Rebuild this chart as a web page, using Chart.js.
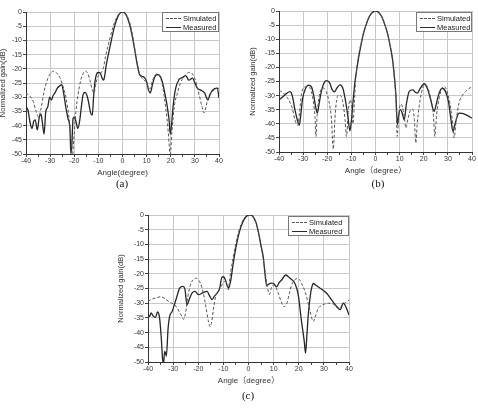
<!DOCTYPE html>
<html>
<head>
<meta charset="utf-8">
<script src="https://cdn.jsdelivr.net/npm/chart.js@4.4.0/dist/chart.umd.min.js"></script>
<style>
body { margin: 0; width: 478px; height: 408px; background: #fff; position: relative; overflow: hidden; font-family: "Liberation Sans", Arial, sans-serif; }
.wrap { position: absolute; }
canvas { display: block; }
.legend { position: absolute; border: 1px solid #777; background: #fff; box-sizing: border-box; font-size: 7.5px; color: #222; padding-top: 1px; will-change: transform; }
.legend .row { display: flex; align-items: center; height: 9px; }
.legend .ln { display: inline-block; width: 15px; margin: 0 2px 0 3px; border-top: 1px solid #2a2a2a; }
.legend .ln.dash { border-top: 1px dashed #555; }
.cap { position: absolute; font-family: "Liberation Serif", "Times New Roman", serif; font-size: 11px; color: #111; transform: translateX(-50%); will-change: transform; }
</style>
</head>
<body>

<div class="wrap" style="left:0px;top:0px"><canvas id="chartA" width="240" height="180"></canvas></div>
<div class="wrap" style="left:240px;top:0px"><canvas id="chartB" width="238" height="178"></canvas></div>
<div class="wrap" style="left:110px;top:195px"><canvas id="chartC" width="250" height="193"></canvas></div>

<div class="legend" style="left:162px;top:12px;width:57px;height:20px">
  <div class="row"><span class="ln dash"></span>Simulated</div>
  <div class="row"><span class="ln"></span>Measured</div>
</div>
<div class="legend" style="left:416px;top:12px;width:56px;height:20px">
  <div class="row"><span class="ln dash"></span>Simulated</div>
  <div class="row"><span class="ln"></span>Measured</div>
</div>
<div class="legend" style="left:288px;top:216px;width:61px;height:20px">
  <div class="row"><span class="ln dash"></span>Simulated</div>
  <div class="row"><span class="ln"></span>Measured</div>
</div>

<div class="cap" style="left:122px;top:177px">(a)</div>
<div class="cap" style="left:378px;top:177px">(b)</div>
<div class="cap" style="left:248px;top:389px">(c)</div>

<script>
// (a) angle in degrees / normalized gain in dB
const aMeasAngle = [-40,-39.2,-38.3,-37.5,-36.8,-36.2,-35.3,-34.5,-33.8,-33.2,-32.5,-31.8,-31,-30.2,-29.5,-28.8,-28,-27,-26,-25.2,-24.5,-23.5,-22.6,-21.8,-21.4,-21,-20.5,-20,-19.3,-18.5,-17.7,-17,-16.3,-15.5,-14.7,-14,-13.2,-12.5,-12,-11.4,-10.8,-10,-9.2,-8.5,-7.8,-7.3,-6.8,-6,-5,-4,-3,-2,-1,0,1,2,3,4,5,6,7,8,9,10,10.8,11.5,12.3,13.3,14.5,15.5,16.5,17.5,18.5,19.3,19.8,20.3,21,22,23.4,25,26.2,27.5,29,30,31,32.4,34,35.4,36.3,37.3,39.3,40];
const aMeasGain  = [-33.5,-34.5,-39,-41,-38.5,-38,-41.5,-37,-36,-39,-43,-35,-33.5,-30,-31,-29.5,-28.5,-26.8,-26,-25.6,-28,-33.5,-37.5,-41,-50,-47,-37.5,-37,-38.5,-41,-38,-33,-29,-28.3,-29.5,-32,-35.5,-36.3,-30,-24.5,-22,-21.3,-21.5,-23.2,-24,-22,-19,-15.5,-11.5,-7.5,-4.2,-1.8,-0.4,0,-0.4,-1.9,-4.5,-8.3,-13,-18,-21.8,-22.6,-23,-24.5,-27.5,-28.5,-26,-23,-22,-22.5,-24.5,-28.5,-33,-38,-43,-40,-33,-27,-23.8,-23,-22.4,-24,-23.3,-25,-26.8,-27.5,-28.5,-31,-29,-27.5,-26.8,-30.3];
const aSimAngle  = [-40,-38.5,-37,-35.8,-34.8,-33.8,-32.5,-31,-29.5,-28.5,-27.5,-26,-24.8,-23.5,-22.2,-21.3,-20.8,-20.2,-19.3,-18.5,-17.3,-16,-15.3,-14.5,-13.5,-12.5,-11.8,-11,-10,-9,-8,-7,-6,-5,-4,-3,-2,-1,0,1,2,3,4,5,6,7,8,9,10,10.8,11.5,12.3,13.3,14.3,15.3,16.5,17.5,18.5,19.3,19.7,20.5,21.5,22.8,24,25.4,26.5,28,29,30,31,32,33,33.8,34.6,35.5,36.6,38,39.3,40];
const aSimGain   = [-28.5,-29.5,-31.5,-35,-37,-34,-28,-23.5,-21.3,-20.8,-21.3,-23,-25.8,-30,-37,-45,-51,-45,-35,-29.5,-24,-21.2,-20.8,-21.5,-24,-27.5,-28.5,-25,-22.5,-21.5,-20,-15.5,-12,-8.5,-5.5,-3,-1.3,-0.3,0,-0.3,-1.5,-3.8,-7.5,-12.5,-17.5,-21.5,-23.2,-24,-25,-26.5,-27,-24.5,-22.5,-21.8,-22.5,-25.5,-31,-38,-46,-51,-42,-33,-28.5,-25,-23,-21.8,-21.2,-21.8,-23.5,-26.5,-30,-33.5,-35.5,-33.5,-30,-28.5,-27.5,-26.8,-27];

// (b)
const bMeasAngle = [-40,-38.5,-37,-35.5,-34.5,-33.4,-32.3,-31.6,-31,-30.2,-29,-27.8,-26.5,-25.5,-24.8,-24.1,-23.4,-22.3,-21.2,-20.2,-19,-18,-17,-16,-14.7,-13.5,-12.5,-11.5,-10.6,-10,-9.3,-8.5,-7.8,-7,-6,-5,-4,-3,-2,-1,0,1,2,3,4,5,6,7,7.8,8.4,9.1,9.6,10.3,11,11.9,12.8,14,15.4,16.5,17.4,18.5,20.2,21.5,22.9,24.3,25.2,26.3,27.7,29,30.2,31.2,32.1,33,34.6,36,38,40];
const bMeasGain  = [-31.5,-30.5,-29.3,-28.6,-30,-35,-39,-40.5,-37,-31,-27.5,-26.3,-27,-30.5,-34,-36.2,-33,-28,-25.3,-24.7,-25.5,-27.8,-28.7,-27.3,-26.2,-27.5,-31.5,-37,-42.5,-39,-32,-25,-20.9,-16.5,-12,-8,-5.2,-2.8,-1.2,-0.3,0,-0.3,-1.2,-2.8,-5.2,-8,-12,-16.8,-23,-29.1,-40.3,-37,-35,-36,-38.6,-33,-28.5,-28,-28.8,-29.1,-27.5,-25.8,-27.5,-31.5,-35.6,-33,-29.3,-27.4,-28.5,-32,-38,-42.7,-40,-36.2,-36.3,-37,-38];
const bSimAngle  = [-40,-38.5,-37.5,-36,-34.5,-33.4,-32.2,-31.5,-30.6,-29.3,-27.8,-26.6,-25.6,-25.1,-24.7,-24.2,-23.5,-22.6,-21.6,-20.5,-19.3,-18.3,-17.5,-16.8,-16.1,-15.2,-14.3,-13.4,-12.6,-12,-11.3,-10.6,-10,-9.3,-8.8,-8.2,-7.5,-7,-6,-5,-4,-3,-2,-1,0,1,2,3,4,5,6,7,7.8,8.5,9,9.7,10.5,11.2,12,12.6,13.5,14.6,15.4,16.1,16.7,17.3,18.1,19.5,20.8,22,23.2,24,24.6,25.3,26.4,27.5,28.4,29.5,30.8,31.8,32.6,33.4,34.6,36,37.4,38.7,40];
const bSimGain   = [-28.3,-28.8,-29.7,-31.5,-34.5,-38.6,-40.5,-36,-29,-27,-26.8,-28.5,-33,-37.4,-44.5,-37,-31,-28,-27.3,-28.5,-32,-38,-49,-38,-31.5,-29.7,-30.2,-33,-38.6,-44.5,-36,-31.5,-33,-40,-33,-24,-18.5,-15.5,-11.5,-7.8,-5,-2.7,-1.1,-0.3,0,-0.3,-1.2,-2.8,-5.2,-8,-12,-16.8,-23.5,-32,-44.5,-36,-33,-34,-38,-41.5,-38,-35,-34.8,-38.5,-46.8,-40,-33.9,-27.5,-26.2,-28,-32.5,-37,-44.5,-37,-30.8,-27.5,-26.8,-28,-32.5,-38.5,-45,-39,-32.7,-30,-28.5,-27.5,-27];

// (c)
const cMeasAngle = [-40,-39.3,-38.8,-37.9,-37,-36.2,-35.4,-34.7,-34.2,-33.8,-33.4,-33,-32.7,-32,-31.4,-30.4,-29.5,-28.7,-27.4,-26.1,-25.3,-24.5,-23.5,-22.5,-21.3,-19.8,-18.3,-16.5,-15.5,-14.5,-13.5,-12.5,-11.5,-10.6,-10,-9.2,-8.5,-7.9,-7.4,-7,-6.5,-6,-5,-4,-3,-2,-1,0,1,2,3,4,5,5.9,6.5,7.2,7.9,9,9.9,11.2,12.2,13.2,14.8,16.5,18.5,19.8,21.1,22.2,22.7,23.3,23.8,24.5,25.1,25.8,27,28.5,31.1,33.1,35.1,36.5,37.7,39,40];
const cMeasGain  = [-34,-34.5,-33.3,-34.4,-34.8,-33,-35,-42,-49,-50.5,-46.4,-47,-48,-38.5,-34.5,-32.8,-30.5,-28.3,-24.9,-24.3,-25.2,-30.5,-28.5,-26.6,-26,-27.1,-26.5,-26,-27.5,-28.8,-27.5,-26.6,-25,-21.2,-21,-22,-24,-24.9,-23.5,-22,-19,-16,-11,-7,-4,-1.9,-0.6,0,0,-0.8,-2.6,-6,-10.5,-14.5,-19.5,-24,-23.6,-23.2,-23.3,-24.4,-23,-22.1,-20.4,-21.5,-23.3,-27.2,-36.2,-43,-47,-40,-33.9,-28,-24.9,-23.3,-24,-24.9,-26.6,-28.9,-31.1,-32.2,-30,-31.7,-34];
const cSimAngle  = [-40,-38,-36,-35,-33.5,-32,-30.5,-29.5,-28.5,-27.5,-26.5,-25.8,-25,-24.2,-23.2,-22,-21,-20,-19,-18,-17,-16,-15.3,-14.6,-13.8,-13,-12,-11,-10,-9.3,-8.5,-8,-7.5,-7,-6,-5,-4,-3,-2,-1,0,1,2,3,4,5,6,6.8,7.5,8.4,9,9.9,10.8,12,13,14.2,15.3,16.3,17.3,18.5,19.5,20.5,21.5,22.5,23.5,24.5,25.8,26.8,27.8,29,30.5,32,33.5,34.5,35.7,37,38.5,40];
const cSimGain   = [-29.3,-28.5,-28,-27.8,-28.3,-29.3,-30,-30.5,-31.5,-33,-34.5,-35.5,-33,-28,-24,-22,-21.5,-22,-23.5,-26.5,-31,-36,-38,-36,-31,-27.5,-26,-24.5,-23,-22.5,-24,-25.5,-22,-19,-14,-9.5,-6,-3.3,-1.5,-0.4,0,0,-0.8,-2.8,-6.2,-10.8,-15.5,-20.5,-24.5,-27,-25,-23.8,-24.5,-27,-29.5,-31.2,-30,-26.5,-23.5,-22,-21.6,-22.2,-24,-26,-29,-32.8,-36.2,-34,-31.7,-30.8,-30.2,-30,-30.2,-30.8,-31.8,-31,-29.8,-29];

const FONT = '"Liberation Sans", "Noto Sans CJK SC", Arial, sans-serif';

function points(xs, ys) {
    return xs.map((x, i) => ({ x: x, y: ys[i] }));
}

function drawChart(id, measX, measY, simX, simY, opt) {
    return new Chart(document.getElementById(id), {
        type: 'line',
        data: {
            datasets: [{
                label: 'Simulated',
                data: points(simX, simY),
                borderColor: '#555',
                borderWidth: 1,
                borderDash: [3, 2],
                pointRadius: 0,
                cubicInterpolationMode: 'monotone'
            }, {
                label: 'Measured',
                data: points(measX, measY),
                borderColor: '#262626',
                borderWidth: 1.3,
                pointRadius: 0,
                cubicInterpolationMode: 'monotone'
            }]
        },
        options: {
            responsive: false,
            animation: false,
            events: [],
            layout: { padding: { top: opt.top, right: opt.right, left: 0, bottom: 0 } },
            plugins: { legend: { display: false }, tooltip: { enabled: false } },
            scales: {
                x: {
                    type: 'linear',
                    min: -40, max: 40,
                    afterFit: function (s) { s.height = 26; },
                    ticks: {
                        stepSize: 5, autoSkip: false, maxRotation: 0, padding: 0,
                        color: '#333', font: { family: FONT, size: 7 },
                        callback: v => (v % 10 === 0 ? v : '')
                    },
                    grid: {
                        color: c => (c.tick && c.tick.value % 10 === 0 ? '#c8c8c8' : 'rgba(0,0,0,0)'),
                        tickColor: '#444', tickLength: 3
                    },
                    border: { color: '#333' },
                    title: {
                        display: true, text: opt.xTitle, color: '#333',
                        font: { family: FONT, size: 8 },
                        padding: { top: 0, bottom: 2 }
                    }
                },
                y: {
                    min: -50, max: 0,
                    afterFit: function (s) { s.width = opt.yWidth; },
                    ticks: {
                        stepSize: 5, padding: 1,
                        color: '#333', font: { family: FONT, size: 7 }
                    },
                    grid: { color: '#c8c8c8', tickColor: '#444', tickLength: 3 },
                    border: { color: '#333' },
                    title: {
                        display: true, text: 'Normalized gain(dB)', color: '#333',
                        font: { family: FONT, size: 7.5 },
                        padding: { top: opt.yTitlePad, bottom: 0 }
                    }
                }
            }
        }
    });
}

drawChart('chartA', aMeasAngle, aMeasGain, aSimAngle, aSimGain,
    { top: 12, right: 21, yWidth: 26, yTitlePad: -2, xTitle: 'Angle(degree)' });
drawChart('chartB', bMeasAngle, bMeasGain, bSimAngle, bSimGain,
    { top: 11, right: 6, yWidth: 39, yTitlePad: 8.5, xTitle: 'Angle（degree）' });
drawChart('chartC', cMeasAngle, cMeasGain, cSimAngle, cSimGain,
    { top: 20, right: 11, yWidth: 38, yTitlePad: 6.5, xTitle: 'Angle（degree）' });
</script>
</body>
</html>
